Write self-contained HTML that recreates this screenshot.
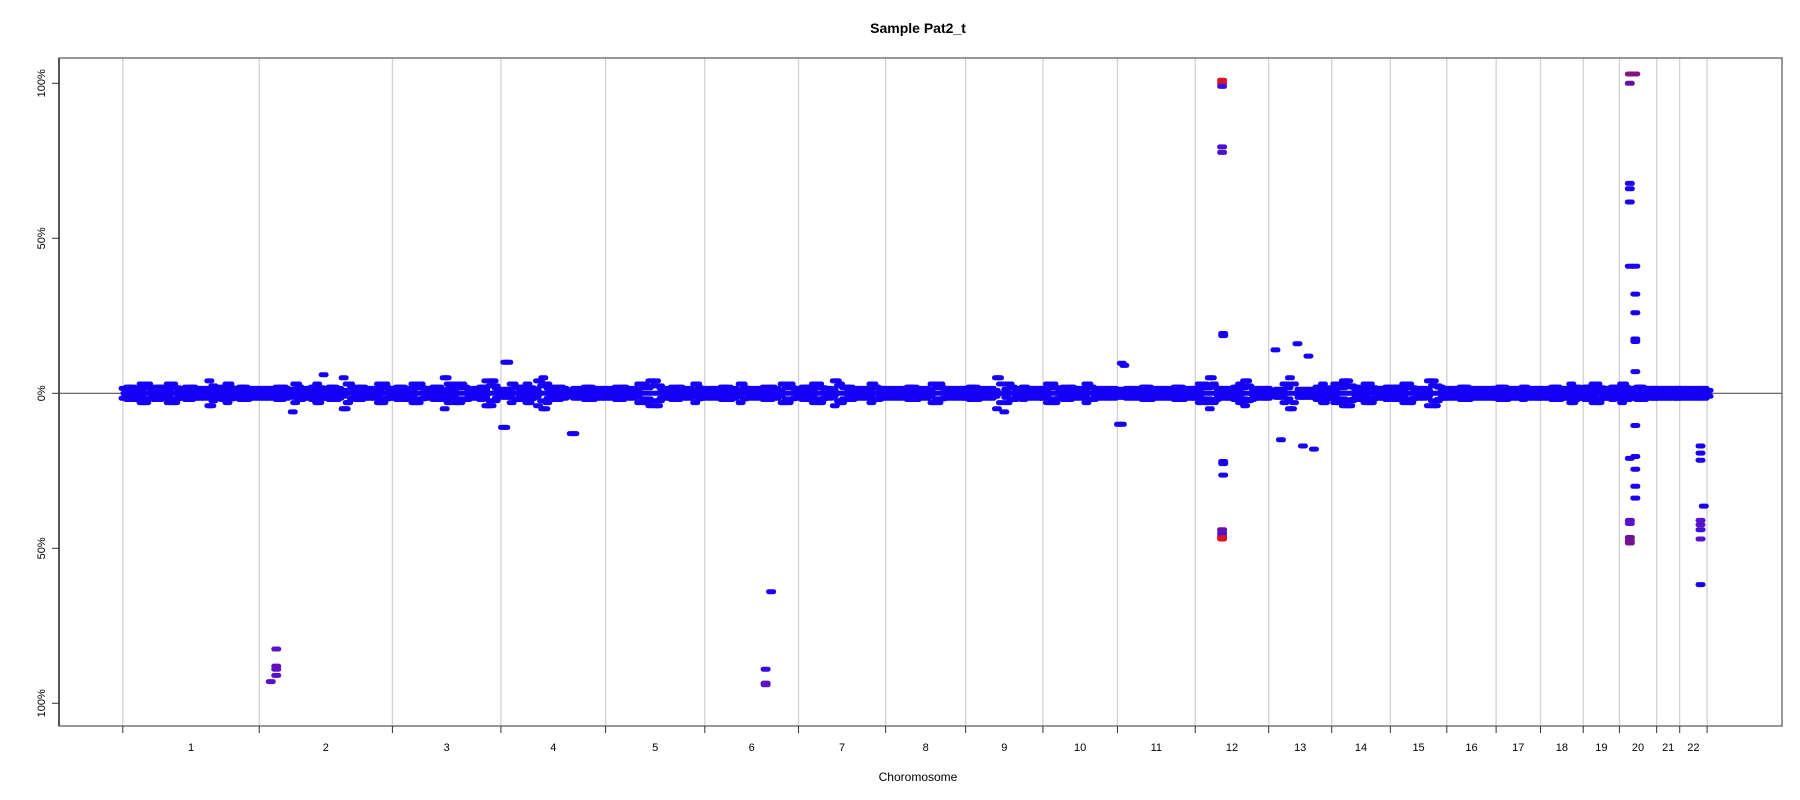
<!DOCTYPE html>
<html><head><meta charset="utf-8"><style>
html,body{margin:0;padding:0;background:#fff;}
svg{display:block;font-family:"Liberation Sans",Arial,sans-serif;}
</style></head><body>
<svg id="chart" width="1800" height="800" viewBox="0 0 1800 800">
<text x="918" y="33" text-anchor="middle" font-size="14" font-weight="bold">Sample Pat2_t</text>
<g id="grid"></g>
<line x1="59" y1="393.3" x2="1782" y2="393.3" stroke="#555" stroke-width="1.2"/>
<g id="points"></g>
<rect x="59" y="58" width="1723" height="668" fill="none" stroke="#777" stroke-width="1.5"/>
<line x1="59" y1="58" x2="59" y2="726" stroke="#555" stroke-width="2"/>
<g id="yaxis"></g>
<g id="xaxis"></g>
<text x="918" y="781" text-anchor="middle" font-size="12">Choromosome</text>
</svg>
<script>
const chromNames = ["1","2","3","4","5","6","7","8","9","10","11","12","13","14","15","16","17","18","19","20","21","22"];
const chromLengths = [249,243,198,191,181,171,159,146,141,136,142,134,115,107,103,90,81,78,66,68,42,50];
const yTicks = [100,50,0,-50,-100];
const yTickLabels = ["100%","50%","0%","50%","100%"];
// dense band values (%) per chromosome, evenly spread along the chromosome
const bandValues = [
 [0,2,-2,1,-3,3,0,-2,2,-1,3,-3,1,0,-2,2,0,-1,1,-4,2,0,-2,3,-1,0,2,-2,1,0],
 [0,-1,1,0,-2,2,0,-6,3,-2,1,0,2,-3,6,-1,2,-2,0,-5,3,1,-2,2,0,-1,1,-3,3,0],
 [0,2,-2,1,-3,3,0,-1,2,-2,5,0,-3,3,-2,1,0,2,-4,4,0],
 [-11,10,3,-2,2,-3,0,4,-5,1,-2,2,0,-13,1,-1,2,-2,0,1],
 [0,1,-2,2,-1,0,3,-3,4,-4,1,0,-2,2,0,-1,3,0],
 [0,1,-1,2,-2,0,3,0,-1,1,-2,2,0,-3,3,0],
 [0,2,-2,3,-3,1,0,4,-3,2,-2,0,1,-1,3,-2,0],
 [0,1,-1,0,2,-2,0,1,-3,3,0,-1,1,0],
 [0,2,-2,1,-1,0,5,-6,3,-2,0,2,-1,1,0],
 [0,3,-3,1,-2,2,0,-1,3,-2,1,0,-1,1],
 [-10,9,0,1,-1,2,-2,0,1,-1,0,2,-2,1,0],
 [0,3,-3,5,-2,1,0,-1,2,-3,4,-2,0,1,-1],
 [0,14,-15,3,-5,16,-17,12,-18,2,-3,0],
 [0,3,-3,4,-4,2,-2,0,3,-3,1,-1,0,2],
 [0,2,-2,3,-3,1,-1,0,4,-4,2,0],
 [0,1,-1,2,-2,0,1,-1,0,1],
 [0,2,-2,1,-1,0,2,-1,1,0],
 [0,1,-1,2,-2,0,1,-3,2,0],
 [0,2,-2,3,-3,1,-1,0,2,0],
 [0,3,-2,1,-1,2,-2,0,1,0],
 [0,1,-1,0,1,0],
 [0,1,-1,0,1,0]
];
// outliers: chromosome index (0-based), position (Mb), value (%), colour
const outChrom = [1,1,1,1,1, 3,3,3, 5,5,5,5, 10,10, 11,11,11,11,11,11,11,11,11,11,11,11,11,11,11, 19,19,19,19,19,19,19,19,19,19,19,19,19,19,19,19,19,19,19,19,19,19,19,19, 21,21,21,21,21,21,21,21,21];
const outPos = [31,31,31,31,21, 8,8,134, 111,111,111,121, 8,8, 49,49,49,49,49,51,51,51,51,51,49,49,49,49,49, 19,19,19,19,19,19,19,19,19,19,19,19,29,29,29,29,29,29,29,29,29,29,29,29, 38,38,38,38,38,38,38,38,44];
const outVal = [-82.5,-88,-89,-91,-93, 10,-11,-13, -93.5,-94,-89,-64, 9.7,-10, 101,100,99,79.5,77.7,19.3,18.6,-22,-22.7,-26.4,-44,-45,-46,-46.5,-47, 103,100,67.7,66,61.7,41,-21,-41,-42,-46.5,-47.6,-48.3, 103,41,32,26,17.5,16.7,7,-10.4,-20.4,-24.5,-30,-33.8, -17,-19.3,-21.6,-41,-42.4,-44,-47,-61.7,-36.4];
const outColor = ["#5a12c8","#6010c0","#6010c0","#5a12c8","#5a12c8", "#1a00f0","#1a00f0","#1a00f0", "#6a10b0","#5a12c8","#3a08e0","#1a00f0", "#1a00f0","#1a00f0", "#e0102a","#d0143a","#4010d8","#4a10d0","#4a10d0","#1a00f0","#1a00f0","#1a00f0","#1a00f0","#1a00f0","#6a1098","#5a12c8","#4010d8","#d0143a","#e0102a", "#8a1080","#6a10a0","#1a00f0","#1a00f0","#1a00f0","#1a00f0","#1a00f0","#5a12c8","#5a12c8","#6a1098","#6a1098","#7a1090", "#8a1080","#1a00f0","#1a00f0","#1a00f0","#1a00f0","#1a00f0","#1a00f0","#1a00f0","#1a00f0","#1a00f0","#1a00f0","#1a00f0", "#1a00f0","#1a00f0","#1a00f0","#5a12c8","#5a12c8","#4010d8","#5a12c8","#1a00f0","#1a00f0"];

const NS = "http://www.w3.org/2000/svg";
const X0 = 122.8, X1 = 1707.1;
const totalLen = chromLengths.reduce((a,b)=>a+b,0);
const pxPerMb = (X1-X0)/totalLen;
const starts = [];
let acc = 0;
for (const l of chromLengths){ starts.push(acc); acc += l; }
function xScale(ci,pos){ return X0 + (starts[ci]+pos)*pxPerMb; }
function yScale(v){ return 393.3 - v*3.1; }
function mk(tag,attrs,parent){ const e=document.createElementNS(NS,tag); for(const k in attrs) e.setAttribute(k,attrs[k]); parent.appendChild(e); return e; }

const grid=document.getElementById('grid'), xa=document.getElementById('xaxis'), ya=document.getElementById('yaxis'), pts=document.getElementById('points');
for (let i=0;i<=chromLengths.length;i++){
  const x = i<chromLengths.length ? xScale(i,0) : X1;
  const gl = mk('line',{x1:x,y1:58,x2:x,y2:726,stroke:'#d2d2d2','stroke-width':1.3},grid);
  
  
  const tk = mk('line',{x1:x,y1:726,x2:x,y2:733,stroke:'#333','stroke-width':1},xa);
  
  
}
chromNames.forEach((n,i)=>{
  const t = mk('text',{x:xScale(i,chromLengths[i]/2),y:751,'text-anchor':'middle','font-size':11},xa);
  t.textContent=n;
  
  
});
yTicks.forEach((v,i)=>{
  const y=yScale(v);
  const tk = mk('line',{x1:52,y1:y,x2:59,y2:y,stroke:'#333','stroke-width':1},ya);
  
  
  const t = mk('text',{x:0,y:0,'text-anchor':'middle','font-size':11,transform:`translate(45,${y}) rotate(-90)`},ya);
  t.textContent=yTickLabels[i];
  
  
});
function dash(x,v,color){
  const r = mk('rect',{x:x-5,y:yScale(v)-2.5,width:10,height:5,rx:2.5,fill:color},pts);
  
  
}
bandValues.forEach((vals,ci)=>{
  const L=chromLengths[ci];
  vals.forEach((v,k)=>{
    const pos = L*(0.02+0.96*k/(vals.length-1||1));
    const x = xScale(ci,pos);
    const a = Math.abs(v);
    dash(x,0,'#1400f5');
    if (a<=5) {
      const s = Math.max(a,1.6);
      dash(x+2,s*0.6,'#1400f5');
      dash(x+2,-s*0.6,'#1400f5');
      dash(x-2,s,'#1400f5');
      dash(x-2,-s,'#1400f5');
    } else {
      dash(x+2,1.3,'#1400f5');
      dash(x+2,-1.3,'#1400f5');
    }
    dash(x,v,'#1400f5');
  });
});
outVal.forEach((v,i)=>{ dash(xScale(outChrom[i],outPos[i]),v,outColor[i]); });
</script>
</body></html>
